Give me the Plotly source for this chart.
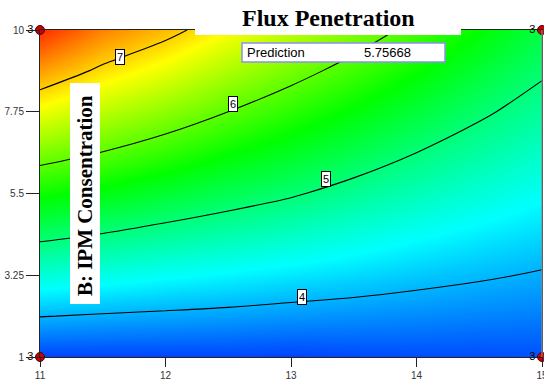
import plotly.graph_objects as go

# ---- data ----
x_vals = [11, 11.5, 12, 12.5, 13, 13.5, 14, 14.5, 15]          # A
y_vals = [1, 2.125, 3.25, 4.375, 5.5, 6.625, 7.75, 8.875, 10]   # B: IPM Consentration
flux = [
    [3.46, 3.46, 3.47, 3.47, 3.46, 3.49, 3.51, 3.51, 3.53],
    [4.01, 3.97, 3.94, 3.91, 3.87, 3.84, 3.81, 3.78, 3.75],
    [4.55, 4.48, 4.40, 4.33, 4.26, 4.19, 4.11, 4.04, 3.97],
    [5.10, 4.99, 4.87, 4.76, 4.65, 4.53, 4.40, 4.29, 4.19],
    [5.63, 5.49, 5.33, 5.18, 5.04, 4.87, 4.70, 4.55, 4.40],
    [6.17, 5.99, 5.80, 5.59, 5.41, 5.21, 5.00, 4.81, 4.62],
    [6.71, 6.46, 6.24, 6.00, 5.77, 5.54, 5.30, 5.06, 4.84],
    [7.25, 6.93, 6.68, 6.39, 6.13, 5.87, 5.60, 5.32, 5.05],
    [7.79, 7.38, 7.11, 6.79, 6.48, 6.20, 5.90, 5.58, 5.27],
]
contour_levels = [4, 5, 6, 7]
label_x = [11.64, 12.54, 13.28, 13.09]
label_y = [9.26, 7.96, 5.90, 2.66]
label_text = ["7", "6", "5", "4"]
design_x = [11, 11, 15, 15]
design_y = [1, 10, 1, 10]
design_reps = ["3", "3", "3", "3"]
x_ticks = [11, 12, 13, 14, 15]
y_ticks = [1, 3.25, 5.5, 7.75, 10]
y_ticktext = ["1", "3.25", "5.5", "7.75", "10"]
prediction_value = "5.75668"

cscale = [[0.0, "rgb(0,0,255)"], [0.25, "rgb(0,255,255)"], [0.5, "rgb(0,255,0)"],
          [0.75, "rgb(255,255,0)"], [1.0, "rgb(255,0,0)"]]

fig = go.Figure()
fig.add_trace(go.Heatmap(x=x_vals, y=y_vals, z=flux, zsmooth="best",
                         colorscale=cscale, zmin=3.15, zmax=8.0,
                         showscale=False, hoverinfo="skip"))
fig.add_trace(go.Contour(x=x_vals, y=y_vals, z=flux,
                         contours=dict(start=min(contour_levels), end=max(contour_levels),
                                       size=1, coloring="none"),
                         line=dict(color="black", width=1.1),
                         showscale=False, hoverinfo="skip"))
fig.add_trace(go.Scatter(x=design_x, y=design_y, mode="markers+text",
                         text=design_reps, textposition="middle left",
                         textfont=dict(family="Arial, Liberation Sans", size=11, color="black"),
                         marker=dict(size=9, color="#cc0000", line=dict(color="#550000", width=1)),
                         cliponaxis=False, showlegend=False, hoverinfo="skip"))

for lx, ly, lt in zip(label_x, label_y, label_text):
    fig.add_annotation(x=lx, y=ly, text=lt, showarrow=False,
                       font=dict(family="Arial, Liberation Sans", size=11, color="black"),
                       bgcolor="white", bordercolor="black", borderwidth=1, borderpad=1)

axis_common = dict(showgrid=False, zeroline=False, showline=True, linecolor="#222",
                   linewidth=1, mirror=True, ticks="outside", tickcolor="#222",
                   ticklabeloverflow="allow", automargin=False,
                   tickfont=dict(family="Arial, Liberation Sans", size=10, color="#333"))

fig.update_layout(
    width=544, height=383,
    margin=dict(l=40, r=2, t=30, b=26),
    paper_bgcolor="white", plot_bgcolor="white",
    showlegend=False,
    xaxis=dict(range=[11, 15], tickvals=x_ticks, ticklen=9, **axis_common),
    yaxis=dict(range=[1, 10], tickvals=y_ticks, ticktext=y_ticktext, ticklen=13, **axis_common),
    shapes=[
        dict(type="line", xref="paper", yref="paper", x0=1, x1=1, y0=0, y1=1,
             line=dict(color="#8a8a8a", width=1.2), layer="above"),
        dict(type="rect", xref="paper", yref="paper", x0=0.3088, x1=0.8386, y0=0.9847, y1=1.2,
             fillcolor="white", line=dict(width=0), layer="above"),
        dict(type="rect", xref="paper", yref="paper", x0=0.4024, x1=0.8068, y0=0.9021, y1=0.9602,
             fillcolor="white", line=dict(color="#8f8ff0", width=1.5), layer="above"),
        dict(type="rect", xref="paper", yref="paper", x0=0.0598, x1=0.1195, y0=0.162, y1=0.838,
             fillcolor="white", line=dict(width=0), layer="above"),
    ],
)
fig.add_annotation(xref="paper", yref="paper", x=0.574, y=1.037, text="<b>Flux Penetration</b>",
                   showarrow=False, xanchor="center", yanchor="middle",
                   font=dict(family="Liberation Serif, Times New Roman", size=24, color="black"))
fig.add_annotation(xref="paper", yref="paper", x=0.408, y=0.931, text="Prediction",
                   showarrow=False, xanchor="left", yanchor="middle",
                   font=dict(family="Arial, Liberation Sans", size=13, color="black"))
fig.add_annotation(xref="paper", yref="paper", x=0.641, y=0.931, text=prediction_value,
                   showarrow=False, xanchor="left", yanchor="middle",
                   font=dict(family="Arial, Liberation Sans", size=13, color="black"))
fig.add_annotation(xref="paper", yref="paper", x=0.0896, y=0.495, text="<b>B: IPM Consentration</b>",
                   showarrow=False, textangle=-90, xanchor="center", yanchor="middle",
                   font=dict(family="Liberation Serif, Times New Roman", size=21, color="black"))

fig.write_html("out.html", config={"displayModeBar": False},
               post_script="document.body.style.margin='0';document.body.style.padding='0';")
